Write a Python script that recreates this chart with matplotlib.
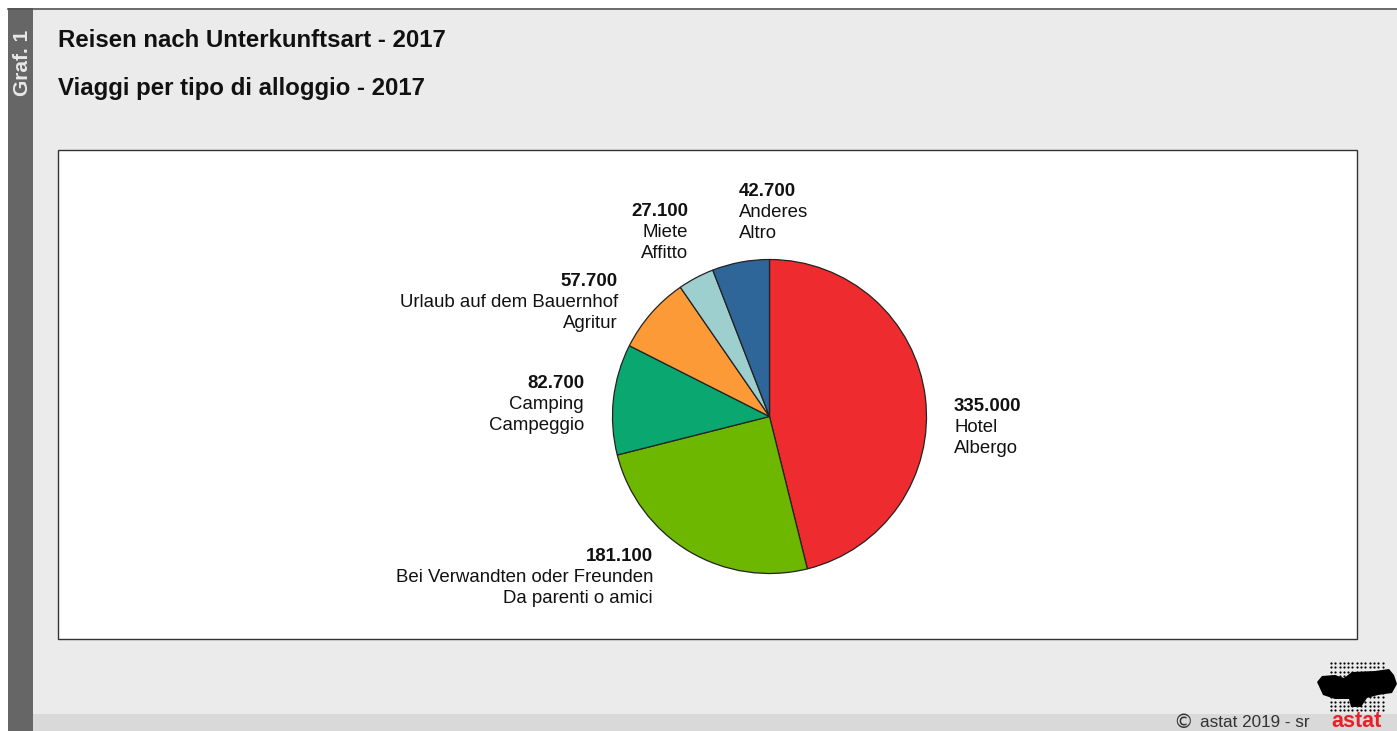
import matplotlib
matplotlib.use('Agg')
import matplotlib.pyplot as plt
import numpy as np
from matplotlib.patches import Rectangle, Polygon

plt.rcParams['font.family'] = ['Liberation Sans', 'DejaVu Sans']

values = [335000, 181100, 82700, 57700, 27100, 42700]
value_labels = ['335.000', '181.100', '82.700', '57.700', '27.100', '42.700']
names_de = ['Hotel', 'Bei Verwandten oder Freunden', 'Camping',
            'Urlaub auf dem Bauernhof', 'Miete', 'Anderes']
names_it = ['Albergo', 'Da parenti o amici', 'Campeggio', 'Agritur', 'Affitto', 'Altro']
colors = ['#ee2b2f', '#6eb700', '#0aa771', '#fd9a38', '#9ccfce', '#2f6699']

W, H = 1397, 731
fig = plt.figure(figsize=(W / 100, H / 100), dpi=100, facecolor='white')

# page background, drawn in pixel coordinates
bg = fig.add_axes([0, 0, 1, 1])
bg.set_xlim(0, W)
bg.set_ylim(H, 0)
bg.axis('off')
bg.add_patch(Rectangle((8, 8), W - 8, H - 8, fc='#ebebeb', ec='none'))
bg.add_patch(Rectangle((33, 714), W - 33, H - 714, fc='#d9d9d9', ec='none'))
bg.add_patch(Rectangle((8, 8), 25, H - 8, fc='#666666', ec='none'))
bg.plot([8, W], [8.5, 8.5], color='#555555', lw=1.2)
bg.add_patch(Rectangle((58, 150), 1299, 489, fc='white', ec='#333333', lw=1))

bg.text(22, 63, 'Graf. 1', color='#e8e8e8', fontsize=15, fontweight='bold',
        rotation=90, ha='center', va='center')
bg.text(58, 47, 'Reisen nach Unterkunftsart - 2017', fontsize=17.3, fontweight='bold',
        color='#111111', va='baseline')
bg.text(58, 95, 'Viaggi per tipo di alloggio - 2017', fontsize=17.3, fontweight='bold',
        color='#111111', va='baseline')

# pie
cx, cy, r = 769.5, 416.5, 157
pie_ax = fig.add_axes([(cx - r - 2) / W, 1 - (cy + r + 2) / H, (2 * r + 4) / W, (2 * r + 4) / H])
pie_ax.pie(values, colors=colors, startangle=90, counterclock=False, radius=r / (r + 2),
           wedgeprops={'edgecolor': '#222222', 'linewidth': 0.9})
pie_ax.set_xlim(-1, 1)
pie_ax.set_ylim(-1, 1)

# label anchors: x, baseline of first line, alignment
label_pos = [(954, 411, 'left'), (653, 561, 'right'), (584, 388, 'right'),
             (618, 286, 'right'), (688, 216, 'right'), (739, 196, 'left')]
for i, (x, y, ha) in enumerate(label_pos):
    bg.text(x, y, value_labels[i], fontsize=13.4, fontweight='bold', ha=ha, va='baseline', color='#111111')
    bg.text(x, y + 21, names_de[i], fontsize=13.4, ha=ha, va='baseline', color='#111111')
    bg.text(x, y + 42, names_it[i], fontsize=13.4, ha=ha, va='baseline', color='#111111')

# footer
bg.text(1173, 723, '\u00a9', fontsize=14, va='center', color='#333333', family=['DejaVu Sans'])
bg.text(1200, 727, 'astat 2019 - sr', fontsize=12.3, va='baseline', color='#333333')
bg.text(1356, 727, 'astat', fontsize=15.5, fontweight='bold', ha='center', va='baseline', color='#e8202a')

# logo
gx, gy = np.meshgrid(np.arange(1331, 1384, 4.3), np.arange(663, 711, 4.3))
bg.scatter(gx.ravel(), gy.ravel(), s=2.5, color='black', lw=0)
bg.add_patch(Polygon([(1317, 682), (1322, 676), (1335, 675), (1344, 678), (1352, 672),
                      (1375, 671), (1389, 669), (1394, 675), (1397, 684), (1392, 693),
                      (1378, 695), (1367, 698), (1361, 707), (1351, 707), (1349, 699),
                      (1335, 699), (1323, 695)], fc='black', ec='none'))

fig.savefig('out.png', dpi=100, facecolor='white')
